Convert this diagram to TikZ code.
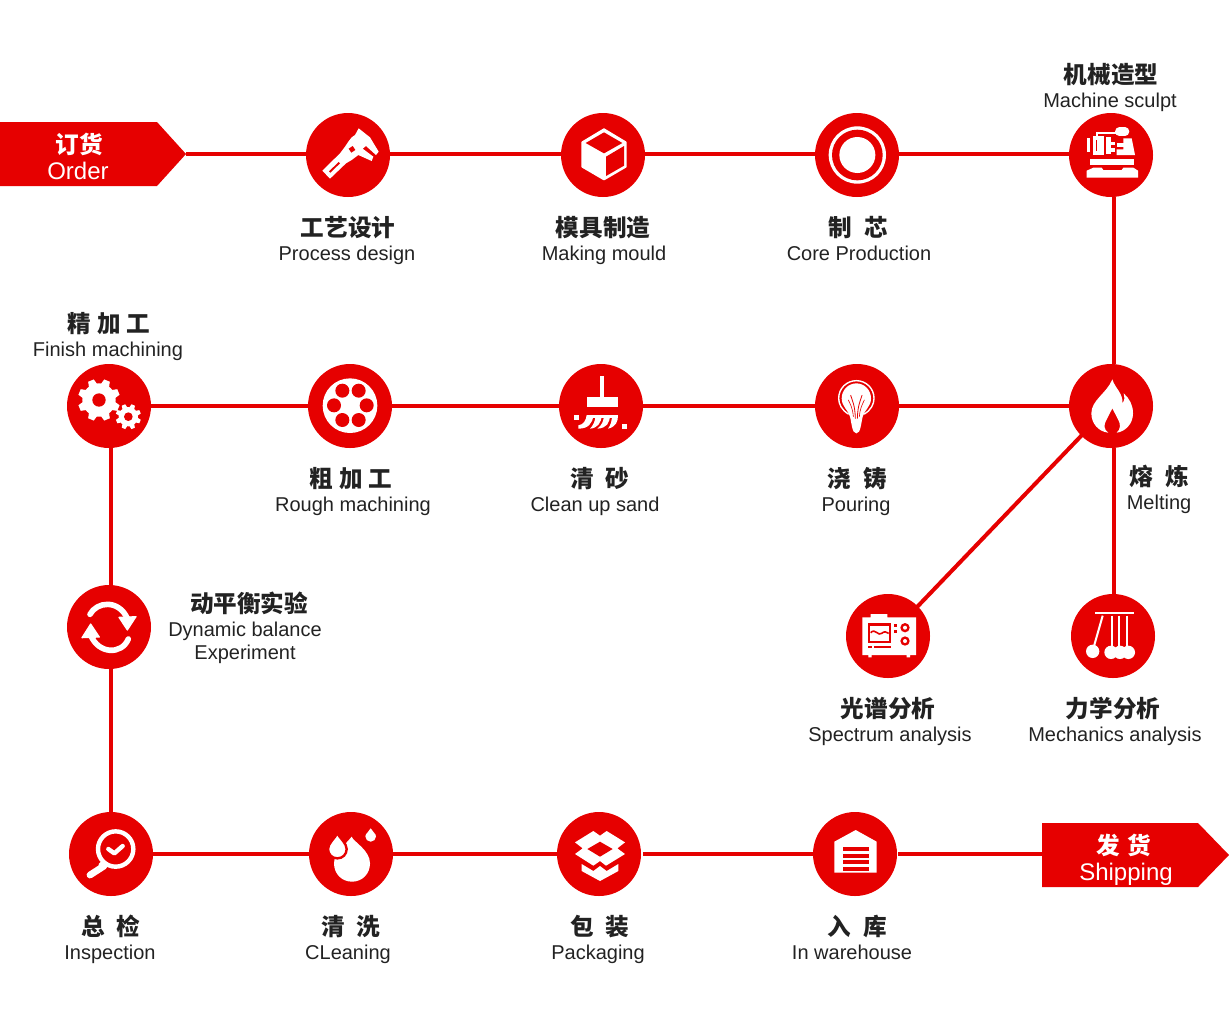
\documentclass[tikz,border=0pt]{standalone}
\usepackage{fontspec}
\setmainfont{Liberation Sans}
\newfontfamily\cjk{Noto Sans CJK SC}
\definecolor{brand}{HTML}{E60000}
\definecolor{ink}{HTML}{222222}
\newcommand{\gp}{\kern6pt}
\newcommand{\gq}{\kern3pt}
\newcommand{\geardraw}[6]{%
  \fill[white] (#1,#2) circle[radius=#4];
  \foreach \a in {0,45,...,315}{
    \fill[white,shift={(#1,#2)},rotate=\a+22.5] (#4-3,-#6) -- (#3,-#6*0.7) -- (#3,#6*0.7) -- (#4-3,#6) -- cycle;
  }
  \fill[brand] (#1,#2) circle[radius=#5];
}
\tikzset{
  stepcircle/.style={circle,fill=brand,minimum size=42pt,inner sep=0pt,outer sep=0pt},
  cn/.style={inner sep=0pt,anchor=base,yshift=-4.5pt,text=ink,font=\cjk\bfseries\fontsize{11.8pt}{14pt}\selectfont},
  en/.style={inner sep=0pt,anchor=base,yshift=-3.5pt,text=ink,font=\fontsize{10pt}{11.5pt}\selectfont},
  cnw/.style={inner sep=0pt,anchor=base,yshift=-4.5pt,text=white,font=\cjk\bfseries\fontsize{11.8pt}{14pt}\selectfont},
  enw/.style={inner sep=0pt,anchor=base,yshift=-4pt,text=white,font=\fontsize{12pt}{14pt}\selectfont},
  link/.style={draw=brand,line width=2pt},
  zo/.style 2 args={shift={(#1,#2)},x=0.166667pt,y=-0.166667pt},
  ws/.style={draw=white,line cap=round,line join=round},
  rs/.style={draw=brand,line cap=round,line join=round},
}
\begin{document}
\begin{tikzpicture}[x=0.5pt,y=-0.5pt]
\useasboundingbox (0,0) rectangle (1229,1019);
% banners
\fill[brand] (0,122) -- (157,122) -- (186,154) -- (157,186) -- (0,186) -- cycle;
\coordinate (ordertip) at (186,154);
\fill[brand] (1042,823) -- (1198,823) -- (1229,855) -- (1198,887) -- (1042,887) -- cycle;
\coordinate (shipbase) at (1042,854);
% step circles
\node[stepcircle] (process) at (348,155) {};
\node[stepcircle] (mould) at (603,155) {};
\node[stepcircle] (core) at (857,155) {};
\node[stepcircle] (sculpt) at (1111,155) {};
\node[stepcircle] (finish) at (109,406) {};
\node[stepcircle] (rough) at (350,406) {};
\node[stepcircle] (sand) at (601,406) {};
\node[stepcircle] (pouring) at (857,406) {};
\node[stepcircle] (melting) at (1111,406) {};
\node[stepcircle] (spectrum) at (888,636) {};
\node[stepcircle] (mechanics) at (1113,636) {};
\node[stepcircle] (balance) at (109,627) {};
\node[stepcircle] (inspect) at (111,854) {};
\node[stepcircle] (cleaning) at (351,854) {};
\node[stepcircle] (packing) at (599,854) {};
\node[stepcircle] (store) at (855,854) {};
% connectors
\draw[link] (ordertip) -- (process.west |- ordertip);
\draw[link] ([yshift=0.5pt]process.east) -- ([yshift=0.5pt]mould.west);
\draw[link] ([yshift=0.5pt]mould.east) -- ([yshift=0.5pt]core.west);
\draw[link] ([yshift=0.5pt]core.east) -- ([yshift=0.5pt]sculpt.west);
\draw[link] ([xshift=1.5pt]sculpt.south) -- ([xshift=1.5pt]melting.north);
\draw[link] (melting.west) -- (pouring.east);
\draw[link] (pouring.west) -- (sand.east);
\draw[link] (sand.west) -- (rough.east);
\draw[link] (rough.west) -- (finish.east);
\draw[link] ([xshift=1pt]finish.south) -- ([xshift=1pt]balance.north);
\draw[link] ([xshift=1pt]balance.south) -- (inspect.north);
\draw[link] (inspect.east) -- (cleaning.west);
\draw[link] (cleaning.east) -- (packing.west);
\draw[link,shorten <=1pt] (packing.east) -- (store.west);
\draw[link,shorten <=0.5pt] (store.east) -- (shipbase);
\draw[link,shorten <=-1pt,shorten >=-1pt] (melting.225) -- (spectrum.45);
\draw[link] ([xshift=1.5pt]melting.south) -- ([xshift=0.5pt]mechanics.north);
% caliper
\begin{scope}[zo={290}{100}]
\fill[white] (97,212) -- (150,160) -- (165,140) -- (175,125) -- (185,112) -- (195,105) -- (206,85) -- (240,112) -- (266,155) -- (258,165) -- (228,138) -- (218,146) -- (250,170) -- (245,183) -- (205,165) -- (185,180) -- (168,190) -- (120,236) -- cycle;
\fill[brand] (176,146) -- (188,138) -- (196,150) -- (184,158) -- cycle;
\fill[brand] (117,214) -- (146,186) -- (150,190) -- (121,218) -- cycle;
% cube
\fill[white,ws,line width=1pt] (942,88) -- (1007,127) -- (1007,200) -- (942,238) -- (877,200) -- (877,127) -- cycle;
\fill[brand] (887,129) -- (942,97) -- (997,129) -- (942,160) -- cycle;
\fill[brand] (948,170) -- (1002,138) -- (1002,197) -- (948,228) -- cycle;
\end{scope}
% core rings and machine
\begin{scope}[zo={800}{100}]
\fill[white] (172,165) circle[radius=86];
\fill[brand] (172,165) circle[radius=76];
\fill[white] (172,165) circle[radius=54];
\fill[white] (860,233) -- (860,212) -- (880,203) -- (905,203) -- (910,210) -- (965,210) -- (970,203) -- (1000,203) -- (1014,212) -- (1014,233) -- cycle;
\fill[white] (870,177) rectangle (1003,195);
\fill[white] (862,115) rectangle (870,155);
\fill[white] (878,108) rectangle (912,165);
\fill[brand] (887,120) rectangle (892,152);
\fill[white] (918,112) rectangle (932,162);
\fill[white] (932,125) rectangle (946,136);
\fill[white] (932,145) rectangle (946,156);
\fill[white] (950,130) rectangle (975,140);
\fill[white] (970,115) -- (995,115) -- (1005,165) -- (950,165) -- (950,148) -- (970,148) -- cycle;
\fill[white] (888,95) rectangle (950,101);
\fill[white] (888,95) rectangle (894,108);
\draw[ws,line width=4.3pt] (958,95) -- (975,95);
\end{scope}
% gears and bearing
\begin{scope}[zo={50}{350}]
\geardraw{147}{150}{63}{50}{20}{13}
\geardraw{235}{200}{38}{29}{13}{8}
\fill[white] (900,167) circle[radius=82];
\foreach \p in {(877,122),(926,122),(852,166),(950,166),(877,210),(926,210)}
  \fill[brand] \p circle[radius=21];
\end{scope}
% brush and bulb
\begin{scope}[zo={540}{350}]
\fill[white] (180,78) rectangle (193,142);
\fill[white] (142,142) rectangle (235,172);
\fill[white] (102,196) rectangle (118,210);
\fill[white] (246,222) rectangle (260,236);
\fill[white] (140,195) rectangle (234,203);
\fill[white] (140,195) -- (160,195) .. controls (158,220) and (145,236) .. (115,236) -- (115,226) .. controls (130,224) and (138,212) .. (140,195) -- cycle;
\fill[white] (167,195) -- (185,195) .. controls (184,220) and (172,234) .. (150,236) .. controls (160,226) and (166,212) .. (167,195) -- cycle;
\fill[white] (192,195) -- (210,195) .. controls (209,220) and (200,234) .. (172,236) .. controls (186,226) and (191,212) .. (192,195) -- cycle;
\fill[white] (216,195) -- (234,195) .. controls (234,215) and (228,230) .. (204,236) .. controls (212,226) and (216,212) .. (216,195) -- cycle;
\draw[ws,line width=0.7pt] (925,192) .. controls (905,180) and (896,162) .. (896,145) .. controls (896,115) and (920,92) .. (949,92) .. controls (978,92) and (1002,115) .. (1002,145) .. controls (1002,162) and (993,180) .. (973,192);
\fill[white] (949,100) .. controls (925,100) and (905,120) .. (905,145) .. controls (905,170) and (925,180) .. (930,200) .. controls (935,220) and (936,250) .. (949,250) .. controls (962,250) and (963,220) .. (968,200) .. controls (973,180) and (993,170) .. (993,145) .. controls (993,120) and (973,100) .. (949,100) -- cycle;
\draw[rs,line width=0.4pt] (932,136) .. controls (936,150) and (945,165) .. (946,205);
\draw[rs,line width=0.4pt] (966,136) .. controls (962,150) and (953,165) .. (952,205);
\draw[rs,line width=0.3pt] (925,150) .. controls (932,165) and (938,175) .. (940,200);
\draw[rs,line width=0.3pt] (973,150) .. controls (966,165) and (960,175) .. (958,200);
\end{scope}
% flame, spectrum, pendulum
\begin{scope}[zo={830}{350}]
\fill[white] (847,88) .. controls (855,115) and (880,130) .. (877,160) .. controls (885,150) and (884,140) .. (881,130) .. controls (898,145) and (909,165) .. (909,190) .. controls (909,222) and (885,245) .. (860,248) .. controls (872,238) and (872,222) .. (865,210) -- (847,175) -- (829,210) .. controls (820,225) and (822,240) .. (835,248) .. controls (805,245) and (784,220) .. (784,190) .. controls (784,150) and (830,130) .. (847,88) -- cycle;
\fill[white] (97,802) -- (122,802) -- (122,792) -- (172,792) -- (172,802) -- (258,802) -- (258,915) -- (240,915) -- (240,922) -- (230,922) -- (230,915) -- (125,915) -- (125,922) -- (115,922) -- (115,915) -- (97,915) -- cycle;
\draw[brand,line width=1.2pt] (117,824) rectangle (180,876);
\draw[brand,line width=0.8pt] (122,848) .. controls (135,833) and (145,860) .. (155,850) .. controls (162,843) and (170,845) .. (176,850);
\fill[brand] (192,822) rectangle (200,830);
\fill[brand] (192,840) rectangle (200,848);
\fill[brand] (225,833) circle[radius=14];
\fill[white] (225,833) circle[radius=6];
\fill[brand] (225,873) circle[radius=14];
\fill[white] (225,873) circle[radius=6];
\fill[brand] (115,888) rectangle (125,894);
\fill[brand] (132,888) rectangle (182,894);
\fill[white] (795,787) rectangle (913,793);
\draw[white,line width=1pt] (818,797) -- (790,895);
\draw[white,line width=1pt] (845,797) -- (845,895);
\draw[white,line width=1pt] (868,797) -- (868,895);
\draw[white,line width=1pt] (890,797) -- (890,895);
\fill[white] (788,904) circle[radius=20];
\fill[white] (843,907) circle[radius=20];
\fill[white] (870,907) circle[radius=20];
\fill[white] (895,907) circle[radius=20];
\end{scope}
% reload
\begin{scope}[zo={50}{575}]
\draw[ws,line width=2.8pt] (120,118) .. controls (140,80) and (205,72) .. (232,130);
\fill[white,ws,line width=0.6pt] (207,127) -- (258,125) -- (232,165) -- cycle;
\draw[ws,line width=2.8pt] (235,192) .. controls (215,240) and (145,238) .. (122,180);
\fill[white,ws,line width=0.6pt] (122,147) -- (148,186) -- (96,188) -- cycle;
\end{scope}
% magnifier, drops
\begin{scope}[zo={50}{800}]
\draw[white,line width=2.2pt] (197,147) circle[radius=53];
\draw[ws,line width=2.2pt] (175,147) -- (193,160) -- (218,138);
\draw[ws,line width=3.4pt] (162,198) -- (120,225);
\draw[ws,line width=1.8pt] (150,195) -- (160,186);
\fill[white] (905,110) .. controls (910,125) and (960,150) .. (960,190) .. controls (960,222) and (936,245) .. (906,245) .. controls (876,245) and (852,222) .. (852,190) .. controls (852,160) and (885,135) .. (905,110) -- cycle;
\filldraw[fill=white,draw=brand,line width=1.2pt] (862,100) .. controls (870,115) and (890,130) .. (890,147) .. controls (890,163) and (878,175) .. (862,175) .. controls (846,175) and (834,163) .. (834,147) .. controls (834,130) and (854,115) .. (862,100) -- cycle;
\fill[white] (962,85) .. controls (966,95) and (978,100) .. (978,109) .. controls (978,118) and (971,125) .. (962,125) .. controls (953,125) and (946,118) .. (946,109) .. controls (946,100) and (958,95) .. (962,85) -- cycle;
\end{scope}
% box and warehouse
\begin{scope}[zo={540}{800}]
\fill[white] (105,127) -- (160,93) -- (180,107) -- (200,93) -- (255,127) -- (232,145) -- (255,162) -- (198,197) -- (180,183) -- (160,197) -- (105,162) -- (128,145) -- cycle;
\fill[brand] (142,147) -- (180,125) -- (218,147) -- (180,170) -- cycle;
\fill[white] (125,192) -- (160,213) -- (180,198) -- (200,213) -- (235,192) -- (235,213) -- (180,243) -- (125,213) -- cycle;
\fill[white] (883,125) -- (947,90) -- (1010,125) -- (1010,218) -- (883,218) -- cycle;
\foreach \yy in {142,161.5,181,200.5}
  \fill[brand] (908,\yy) rectangle (987,\yy+12);
\end{scope}
% labels
\node[cnw] (orderzh) at (79,144) {订货};
\node[enw] (orderen) at (78,171) {Order};
\node[cnw] (shipzh) at (1124,845) {发\kern4pt 货};
\node[enw] (shipen) at (1126,872) {Shipping};
\node[cn] (sculptzh) at (1111,74) {机械造型};
\node[en] (sculpten) at (1110,100) {Machine sculpt};
\node[cn] (processzh) at (348,227) {工艺设计};
\node[en] (processen) at (347,253) {Process design};
\node[cn] (mouldzh) at (603,227) {模具制造};
\node[en] (moulden) at (604,253) {Making mould};
\node[cn] (corezh) at (858,227) {制\gp 芯};
\node[en] (coreen) at (859,253) {Core Production};
\node[cn] (finishzh) at (109,323) {精\gq 加\gq 工};
\node[en] (finishen) at (108,349) {Finish machining};
\node[cn] (roughzh) at (351,478) {粗\gq 加\gq 工};
\node[en] (roughen) at (353,504) {Rough machining};
\node[cn] (sandzh) at (600,478) {清\gp 砂};
\node[en] (sanden) at (595,504) {Clean up sand};
\node[cn] (pourzh) at (857,478) {浇\gp 铸};
\node[en] (pouren) at (856,504) {Pouring};
\node[cn] (meltzh) at (1159,476) {熔\gp 炼};
\node[en] (melten) at (1159,502) {Melting};
\node[cn] (balancezh) at (249,603) {动平衡实验};
\node[en] (balanceen) at (245,629) {Dynamic balance};
\node[en] (balanceen2) at (245,652) {Experiment};
\node[cn] (spectrumzh) at (888,708) {光谱分析};
\node[en] (spectrumen) at (890,734) {Spectrum analysis};
\node[cn] (mechzh) at (1113,708) {力学分析};
\node[en] (mechen) at (1115,734) {Mechanics analysis};
\node[cn] (inspectzh) at (111,926) {总\gp 检};
\node[en] (inspecten) at (110,952) {Inspection};
\node[cn] (cleanzh) at (351,926) {清\gp 洗};
\node[en] (cleanen) at (348,952) {CLeaning};
\node[cn] (packzh) at (600,926) {包\gp 装};
\node[en] (packen) at (598,952) {Packaging};
\node[cn] (storezh) at (857,926) {入\gp 库};
\node[en] (storeen) at (852,952) {In warehouse};
\end{tikzpicture}
\end{document}
